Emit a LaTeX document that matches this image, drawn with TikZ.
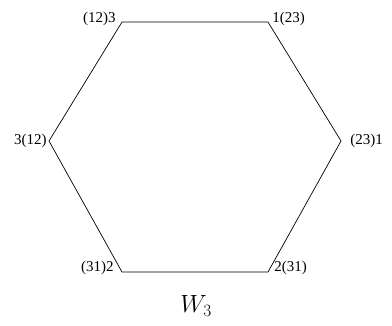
\documentclass[tikz,border=0pt]{standalone}
\usepackage{fontspec}
\setmainfont{Liberation Serif}
\usetikzlibrary{positioning}

\begin{document}
\begin{tikzpicture}[x=1pt, y=-1pt, line width=0.7pt,
    every node/.style={inner sep=0pt, font=\fontsize{15}{18}\selectfont}]
  \useasboundingbox (0,0) rectangle (392,325);
  % corners of the hexagon
  \coordinate (p123) at (122,22);
  \coordinate (p231) at (268,22);
  \coordinate (p312) at (341,141);
  \coordinate (p213) at (268,272);
  \coordinate (p132) at (122,272);
  \coordinate (p321) at (49,141);
  \draw (p123) -- (p231) -- (p312) -- (p213) -- (p132) -- (p321) -- cycle;
  % labels
  \node[anchor=base east] (l123) at (116,22) {(12)3};
  \node[anchor=base west] (l231) at (272,22) {1(23)};
  \node[anchor=west] (l312) at (350,141) {(23)1};
  \node[anchor=base west] (l213) at (274,271) {2(31)};
  \node[anchor=base east] (l132) at (114,271) {(31)2};
  \node[anchor=east] (l321) at (47,141) {3(12)};
  \node[font=\fontsize{26}{30}\selectfont] (name) at (196,306) {$W_3$};
\end{tikzpicture}
\end{document}
